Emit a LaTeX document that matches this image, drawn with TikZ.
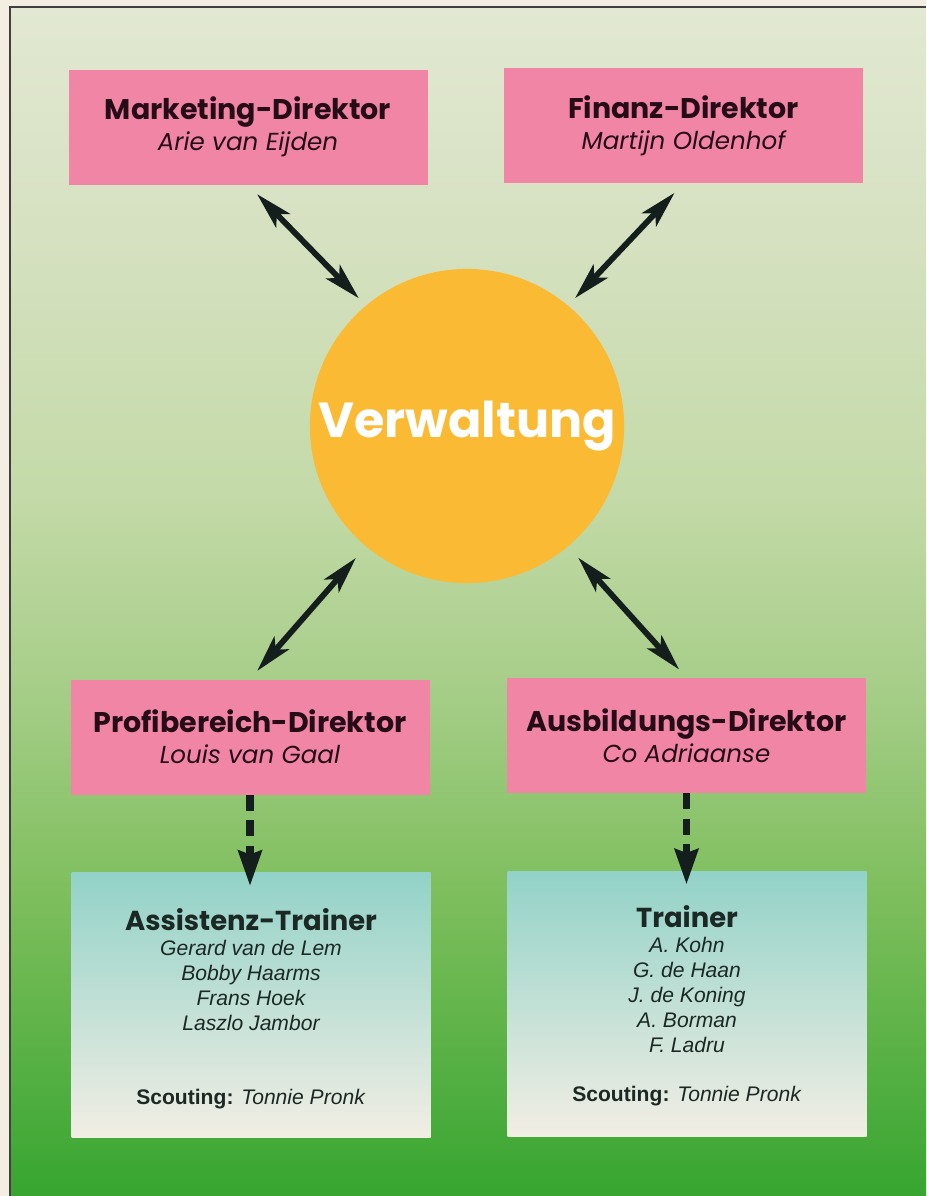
\documentclass[tikz,border=0pt]{standalone}
\usepackage{fontspec}
\usetikzlibrary{arrows.meta}
\newfontfamily\futura{Poppins}
\newfontfamily\helv{Liberation Sans}
\definecolor{cream}{RGB}{244,237,226}
\definecolor{green0}{RGB}{226,232,210}
\definecolor{green1}{RGB}{216,226,196}
\definecolor{green2}{RGB}{196,218,168}
\definecolor{green3}{RGB}{165,205,135}
\definecolor{green4}{RGB}{125,190,92}
\definecolor{green5}{RGB}{55,165,48}
\definecolor{boxpink}{RGB}{241,133,166}
\definecolor{sunorange}{RGB}{251,186,52}
\definecolor{teallight}{RGB}{146,210,200}
\definecolor{paper}{RGB}{242,238,228}
\definecolor{inkred}{RGB}{38,12,22}
\definecolor{inkgreen}{RGB}{28,40,36}
\definecolor{arrowink}{RGB}{20,30,28}
\pgfdeclareverticalshading{pitch}{100bp}{color(0bp)=(green5); color(25bp)=(green5); color(37.5bp)=(green4); color(46bp)=(green3); color(54.5bp)=(green2); color(67bp)=(green1); color(75bp)=(green0); color(100bp)=(green0)}

\begin{document}
\begin{tikzpicture}[
  dirbox/.style={rectangle,fill=boxpink,minimum width=7.18cm,minimum height=2.30cm,align=center,text=inkred,font=\futura\fontsize{14}{17.6}\selectfont},
  trainbox/.style={rectangle,top color=teallight,bottom color=paper,minimum width=7.18cm,minimum height=5.30cm},
  stafflist/.style={align=center,inner sep=0pt,anchor=north,text=inkgreen,font=\helv\itshape\fontsize{12}{14.2}\selectfont},
  scout/.style={inner sep=0pt,text=inkgreen,font=\helv\fontsize{12}{14.2}\selectfont},
  link/.style={arrowink,line width=3.3pt,{Stealth[length=21pt,width=11pt,inset=5pt]}-{Stealth[length=21pt,width=11pt,inset=5pt]}},
  report/.style={arrowink,line width=4.5pt,dash pattern=on 9pt off 5.5pt,-{Stealth[length=20pt,width=13pt,inset=2pt]}}
]
  \useasboundingbox (0,0) rectangle (18.52,-23.92);
  \fill[cream] (0,0) rectangle (18.52,-23.92);
  \shade[shading=pitch] (0.20,-0.14) rectangle (18.52,-23.92);
  \draw[black!75,line width=0.6pt] (0.20,-23.92) -- (0.20,-0.14) -- (18.52,-0.14);
  \node[dirbox] (mark) at (4.960,-2.540) {{\bfseries\fontsize{16.2}{17.6}\selectfont Marketing-Direktor}\\\itshape Arie van Eijden};
  \node[dirbox] (fin) at (13.670,-2.510) {{\bfseries\fontsize{16.2}{17.6}\selectfont Finanz-Direktor}\\\itshape Martijn Oldenhof};
  \node[circle,fill=sunorange,minimum size=6.2cm,text=white,font=\futura\bfseries\fontsize{28}{30}\selectfont] (verw) at (9.340,-8.520) {Verwaltung};
  \node[dirbox] (profi) at (5.000,-14.740) {{\bfseries\fontsize{16.2}{17.6}\selectfont Profibereich-Direktor}\\\itshape Louis van Gaal};
  \node[dirbox] (ausb) at (13.730,-14.710) {{\bfseries\fontsize{16.2}{17.6}\selectfont Ausbildungs-Direktor}\\\itshape Co Adriaanse};
  \node[trainbox] (assist) at (5.020,-20.100) {};
  \node[trainbox] (train) at (13.740,-20.070) {};
  \node[stafflist] (assistnames) at ([yshift=-0.72cm]assist.north) {{\futura\upshape\bfseries\fontsize{15.6}{14.2}\selectfont Assistenz-Trainer}\\Gerard van de Lem\\Bobby Haarms\\Frans Hoek\\Laszlo Jambor};
  \node[stafflist] (trainnames) at ([yshift=-0.70cm]train.north) {{\futura\upshape\bfseries\fontsize{15.6}{14.2}\selectfont Trainer}\\A. Kohn\\G. de Haan\\J. de Koning\\A. Borman\\F. Ladru};
  \node[scout] (assistscout) at ([yshift=0.78cm]assist.south) {\textbf{Scouting:} \textit{Tonnie Pronk}};
  \node[scout] (trainscout) at ([yshift=0.80cm]train.south) {\textbf{Scouting:} \textit{Tonnie Pronk}};
  \draw[link,shorten <=0.26cm,shorten >=0.20cm] (mark.south) -- (verw.130);
  \draw[link,shorten <=0.26cm,shorten >=0.20cm] (fin.south) -- (verw.50);
  \draw[link,shorten <=0.22cm,shorten >=0.30cm] (profi.north) -- (verw.230);
  \draw[link,shorten <=0.22cm,shorten >=0.30cm] (ausb.north) -- (verw.310);
  \draw[report] (profi.south) -- ([yshift=-0.28cm]profi.south |- assist.north);
  \draw[report] (ausb.south) -- ([yshift=-0.28cm]ausb.south |- train.north);
\end{tikzpicture}
\end{document}
